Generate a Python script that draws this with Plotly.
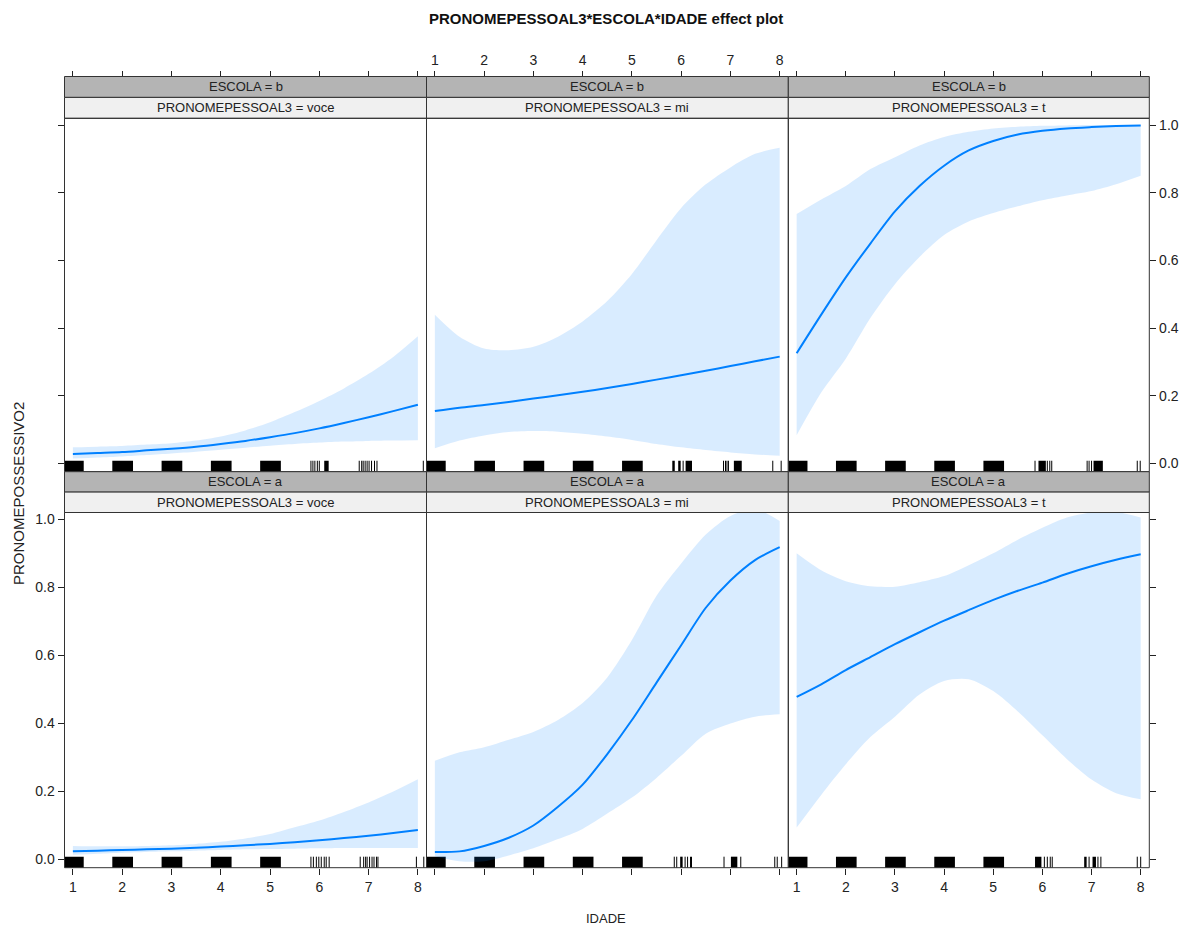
import plotly.graph_objects as go

# ---- effect estimates on the IDADE grid ----
IDADE = [1.0, 1.5, 2.0, 2.5, 3.0, 3.5, 4.0, 4.5, 5.0, 5.5, 6.0, 6.5, 7.0, 7.5, 8.0]

fit_b_voce = [0.028, 0.031, 0.034, 0.039, 0.044, 0.050, 0.058, 0.067, 0.078, 0.090, 0.104, 0.120, 0.137, 0.155, 0.174]
lo_b_voce = [0.015, 0.018, 0.021, 0.025, 0.030, 0.035, 0.041, 0.047, 0.053, 0.058, 0.062, 0.065, 0.067, 0.068, 0.069]
hi_b_voce = [0.048, 0.050, 0.052, 0.056, 0.060, 0.068, 0.080, 0.098, 0.122, 0.152, 0.185, 0.222, 0.265, 0.315, 0.376]

fit_b_mi = [0.155, 0.165, 0.173, 0.182, 0.192, 0.202, 0.212, 0.223, 0.235, 0.248, 0.261, 0.274, 0.288, 0.302, 0.316]
lo_b_mi = [0.045, 0.068, 0.083, 0.093, 0.096, 0.094, 0.088, 0.080, 0.070, 0.058, 0.048, 0.040, 0.033, 0.027, 0.023]
hi_b_mi = [0.440, 0.375, 0.340, 0.335, 0.345, 0.375, 0.420, 0.480, 0.560, 0.660, 0.755, 0.825, 0.875, 0.915, 0.933]

fit_b_t = [0.326, 0.440, 0.550, 0.650, 0.745, 0.820, 0.880, 0.925, 0.953, 0.972, 0.983, 0.990, 0.994, 0.997, 0.999]
lo_b_t = [0.084, 0.210, 0.310, 0.430, 0.530, 0.610, 0.675, 0.715, 0.740, 0.760, 0.778, 0.792, 0.805, 0.825, 0.850]
hi_b_t = [0.737, 0.780, 0.820, 0.870, 0.905, 0.940, 0.965, 0.980, 0.990, 0.995, 0.998, 0.999, 1.000, 1.000, 1.000]

fit_a_voce = [0.024, 0.026, 0.028, 0.030, 0.032, 0.035, 0.038, 0.042, 0.046, 0.051, 0.057, 0.063, 0.070, 0.078, 0.087]
lo_a_voce = [0.014, 0.017, 0.020, 0.022, 0.024, 0.026, 0.028, 0.030, 0.031, 0.032, 0.033, 0.034, 0.034, 0.034, 0.034]
hi_a_voce = [0.040, 0.039, 0.039, 0.040, 0.042, 0.046, 0.052, 0.062, 0.075, 0.095, 0.115, 0.140, 0.168, 0.200, 0.236]

fit_a_mi = [0.022, 0.024, 0.040, 0.064, 0.100, 0.155, 0.220, 0.310, 0.410, 0.520, 0.630, 0.740, 0.820, 0.880, 0.918]
lo_a_mi = [0.010, -0.005, -0.005, 0.012, 0.033, 0.060, 0.090, 0.135, 0.182, 0.240, 0.305, 0.370, 0.400, 0.420, 0.427]
hi_a_mi = [0.290, 0.315, 0.330, 0.352, 0.375, 0.410, 0.460, 0.535, 0.645, 0.775, 0.870, 0.955, 1.010, 1.030, 0.995]

fit_a_t = [0.478, 0.515, 0.557, 0.595, 0.633, 0.668, 0.702, 0.733, 0.763, 0.790, 0.814, 0.840, 0.862, 0.881, 0.897]
lo_a_t = [0.094, 0.190, 0.280, 0.360, 0.420, 0.485, 0.525, 0.530, 0.495, 0.435, 0.365, 0.295, 0.235, 0.195, 0.177]
hi_a_t = [0.900, 0.850, 0.818, 0.803, 0.802, 0.815, 0.833, 0.865, 0.900, 0.940, 0.975, 1.005, 1.020, 1.022, 1.005]

# ---- rug of observed IDADE values (dense spans and single observations) ----
rug_dense = [(0.80, 1.22), (1.80, 2.22), (2.80, 3.22), (3.80, 4.22), (4.80, 5.22)]

rug_spans_b_voce = [(6.10, 6.19)]
rug_obs_b_voce = [5.83, 5.87, 5.91, 5.96, 6.00, 6.81, 6.86, 6.89, 6.93, 6.97, 7.01, 7.06, 7.12, 7.17, 8.11]
rug_spans_b_mi = [(5.82, 5.87), (5.94, 5.99), (6.09, 6.22), (7.07, 7.23)]
rug_obs_b_mi = [6.04, 6.86, 6.90, 6.93, 6.96, 7.86, 8.03]
rug_spans_b_t = [(5.92, 6.07), (7.04, 7.23)]
rug_obs_b_t = [5.85, 6.10, 6.15, 6.19, 6.91, 6.95, 7.00, 7.93, 7.99]
rug_spans_a_voce = []
rug_obs_a_voce = [5.83, 5.88, 5.94, 5.99, 6.04, 6.10, 6.14, 6.20, 6.83, 6.90, 6.94, 6.97,
                  7.02, 7.07, 7.11, 7.16, 7.19, 7.97, 8.12]
rug_spans_a_mi = [(5.98, 6.03), (6.18, 6.22), (7.01, 7.14)]
rug_obs_a_mi = [5.86, 5.91, 6.08, 6.13, 6.87, 7.21, 7.90, 7.95, 8.04]
rug_spans_a_t = [(5.85, 5.98), (6.85, 6.90), (7.02, 7.09)]
rug_obs_a_t = [6.04, 6.10, 6.16, 6.20, 6.95, 7.13, 7.19, 7.93, 8.00]

X_TICKS = [1, 2, 3, 4, 5, 6, 7, 8]
Y_TICKS = [0.0, 0.2, 0.4, 0.6, 0.8, 1.0]
Y_TICK_TEXT = ["0.0", "0.2", "0.4", "0.6", "0.8", "1.0"]

# ---- page geometry (pixels) ----
W, H = 1189, 926
COL_PX = [64.5, 426.5, 788.3, 1149.3]
ROWS = {
    0: dict(strip_top=76.5, top=118.3, bottom=471.7),
    1: dict(strip_top=471.7, top=512.5, bottom=867.7),
}
X_RANGE = [0.83, 8.175]
Y_RANGE = [-0.024, 1.02]

FONT = "Liberation Sans, Arial, sans-serif"
LINE_COL = "#0080ff"
BAND_COL = "rgba(0,128,255,0.15)"
FRAME_COL = "#333333"
STRIP_DARK = "#b4b4b4"
STRIP_LIGHT = "#f0f0f0"
TEXT_COL = "#222222"
TICK_SIZE = 14
STRIP_SIZE = 13

panels = [
    (0, 0, "b", "voce", fit_b_voce, lo_b_voce, hi_b_voce, rug_spans_b_voce, rug_obs_b_voce),
    (0, 1, "b", "mi", fit_b_mi, lo_b_mi, hi_b_mi, rug_spans_b_mi, rug_obs_b_mi),
    (0, 2, "b", "t", fit_b_t, lo_b_t, hi_b_t, rug_spans_b_t, rug_obs_b_t),
    (1, 0, "a", "voce", fit_a_voce, lo_a_voce, hi_a_voce, rug_spans_a_voce, rug_obs_a_voce),
    (1, 1, "a", "mi", fit_a_mi, lo_a_mi, hi_a_mi, rug_spans_a_mi, rug_obs_a_mi),
    (1, 2, "a", "t", fit_a_t, lo_a_t, hi_a_t, rug_spans_a_t, rug_obs_a_t),
]


def px_x(v):
    return v / W


def px_y(v):
    return 1 - v / H


fig = go.Figure()
shapes = []
annotations = []
layout_axes = {}

for i, (row, col, escola, pron, fit, lo, hi, spans, obs) in enumerate(panels, start=1):
    suffix = "" if i == 1 else str(i)
    xa, ya = f"x{suffix}", f"y{suffix}"
    r = ROWS[row]
    x0p, x1p = COL_PX[col], COL_PX[col + 1]

    # confidence band and fitted curve
    fig.add_trace(go.Scatter(x=IDADE, y=lo, mode="lines", xaxis=xa, yaxis=ya,
                             line=dict(width=0, shape="spline", smoothing=0.8),
                             hoverinfo="skip", showlegend=False))
    fig.add_trace(go.Scatter(x=IDADE, y=hi, mode="lines", xaxis=xa, yaxis=ya,
                             fill="tonexty", fillcolor=BAND_COL,
                             line=dict(width=0, shape="spline", smoothing=0.8),
                             hoverinfo="skip", showlegend=False))
    fig.add_trace(go.Scatter(x=IDADE, y=fit, mode="lines", xaxis=xa, yaxis=ya,
                             line=dict(color=LINE_COL, width=2, shape="spline", smoothing=0.8),
                             showlegend=False))

    # rug along the bottom of the panel
    rug_h = 0.031
    for a, b in rug_dense + spans:
        shapes.append(dict(type="rect", xref=xa, yref=f"{ya} domain",
                           x0=max(a, X_RANGE[0]), x1=min(b, X_RANGE[1]), y0=0, y1=rug_h,
                           fillcolor="black", line=dict(width=0), layer="below"))
    for v in obs:
        if X_RANGE[0] <= v <= X_RANGE[1]:
            shapes.append(dict(type="line", xref=xa, yref=f"{ya} domain",
                               x0=v, x1=v, y0=0, y1=rug_h,
                               line=dict(color="black", width=1), layer="below"))

    # axes
    xdef = dict(domain=[px_x(x0p), px_x(x1p)], range=X_RANGE, showgrid=False, zeroline=False,
                showline=False, tickvals=X_TICKS, ticks="outside", ticklen=6, tickwidth=1,
                tickcolor="#222", tickfont=dict(family=FONT, size=TICK_SIZE, color=TEXT_COL))
    if row == 0:
        xdef.update(anchor="free", position=px_y(r["strip_top"]), side="top",
                    showticklabels=(col == 1))
    else:
        xdef.update(anchor=ya, side="bottom", showticklabels=(col != 1))
    layout_axes[f"xaxis{suffix}"] = xdef

    ydef = dict(domain=[px_y(r["bottom"]), px_y(r["top"])], range=Y_RANGE, anchor=xa,
                showgrid=False, zeroline=False, showline=False,
                tickvals=Y_TICKS, ticktext=Y_TICK_TEXT, ticklen=6, tickwidth=1, tickcolor="#222",
                tickfont=dict(family=FONT, size=TICK_SIZE, color=TEXT_COL))
    if col == 0:
        ydef.update(side="left", ticks="outside", showticklabels=(row == 1))
    elif col == 2:
        ydef.update(side="right", ticks="outside", showticklabels=(row == 0))
    else:
        ydef.update(ticks="", showticklabels=False)
    layout_axes[f"yaxis{suffix}"] = ydef

    # strips
    s_top = r["strip_top"]
    s_mid = (r["strip_top"] + r["top"]) / 2
    for (ya0, ya1, fill, label) in [(s_top, s_mid, STRIP_DARK, f"ESCOLA = {escola}"),
                                    (s_mid, r["top"], STRIP_LIGHT, f"PRONOMEPESSOAL3 = {pron}")]:
        shapes.append(dict(type="rect", xref="paper", yref="paper",
                           x0=px_x(x0p), x1=px_x(x1p), y0=px_y(ya1), y1=px_y(ya0),
                           fillcolor=fill, line=dict(color=FRAME_COL, width=1)))
        annotations.append(dict(x=px_x((x0p + x1p) / 2), y=px_y((ya0 + ya1) / 2),
                                xref="paper", yref="paper", text=label, showarrow=False,
                                xanchor="center", yanchor="middle",
                                font=dict(family=FONT, size=STRIP_SIZE, color=TEXT_COL)))

    # panel frame
    shapes.append(dict(type="rect", xref="paper", yref="paper",
                       x0=px_x(x0p), x1=px_x(x1p), y0=px_y(r["bottom"]), y1=px_y(r["top"]),
                       fillcolor="rgba(0,0,0,0)", line=dict(color=FRAME_COL, width=1)))

annotations += [
    dict(x=px_x(606), y=px_y(18), xref="paper", yref="paper", showarrow=False,
         text="<b>PRONOMEPESSOAL3*ESCOLA*IDADE effect plot</b>",
         xanchor="center", yanchor="middle", font=dict(family=FONT, size=15, color="#111")),
    dict(x=px_x(606), y=px_y(918), xref="paper", yref="paper", showarrow=False,
         text="IDADE", xanchor="center", yanchor="middle",
         font=dict(family=FONT, size=13, color=TEXT_COL)),
    dict(x=px_x(18), y=px_y(494), xref="paper", yref="paper", showarrow=False,
         text="PRONOMEPOSSESSIVO2", textangle=-90, xanchor="center", yanchor="middle",
         font=dict(family=FONT, size=15, color=TEXT_COL)),
]

fig.update_layout(
    width=W, height=H, margin=dict(l=0, r=0, t=0, b=0),
    paper_bgcolor="white", plot_bgcolor="white",
    shapes=shapes, annotations=annotations, showlegend=False,
    **layout_axes,
)

fig.write_html("out.html")
